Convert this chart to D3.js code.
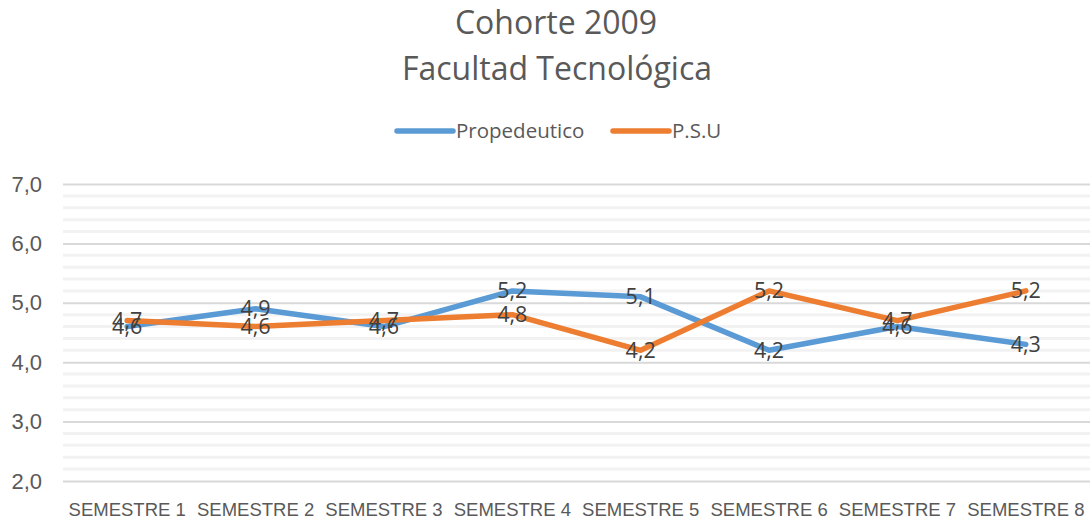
<!DOCTYPE html>
<html>
<head>
<meta charset="utf-8">
<script src="https://cdn.jsdelivr.net/npm/d3@7"></script>
<style>
  body { margin: 0; background: #fff; }
  svg { font-family: "Open Sans", "Noto Sans", sans-serif; }
</style>
</head>
<body>
<svg></svg>
<script>
// Data
let categories = ["SEMESTRE 1", "SEMESTRE 2", "SEMESTRE 3", "SEMESTRE 4",
  "SEMESTRE 5", "SEMESTRE 6", "SEMESTRE 7", "SEMESTRE 8"];
let propedeutico = [4.6, 4.9, 4.6, 5.2, 5.1, 4.2, 4.6, 4.3];
let psu = [4.7, 4.6, 4.7, 4.8, 4.2, 5.2, 4.7, 5.2];
let yTicks = [2, 3, 4, 5, 6, 7];
let seriesNames = ["Propedeutico", "P.S.U"];
let colors = ["#5b9bd5", "#ed7d31"];

let width = 1092;
let height = 526;
let plotLeft = 63, plotRight = 1090, plotTop = 184, plotBottom = 481;

let svg = d3.select("svg").attr("width", width).attr("height", height);

let xScale = d3.scaleBand().domain(categories).range([plotLeft, plotRight]);
let yScale = d3.scaleLinear().domain([2, 7]).range([plotBottom, plotTop]);

// minor gridlines
let minor = d3.range(2, 7.001, 0.2).map((v) => Math.round(v * 10) / 10)
  .filter((v) => !yTicks.includes(v));
svg.append("g").selectAll("line").data(minor).enter().append("line")
  .attr("x1", plotLeft).attr("x2", plotRight)
  .attr("y1", (d) => yScale(d)).attr("y2", (d) => yScale(d))
  .attr("stroke", "#f2f2f2").attr("stroke-width", 3);

// major gridlines via axis
let yAxis = d3.axisLeft(yScale).tickValues(yTicks)
  .tickSize(-(plotRight - plotLeft)).tickPadding(21)
  .tickFormat((d) => d3.format(".1f")(d).replace(".", ","));
let gy = svg.append("g").attr("transform", "translate(" + plotLeft + ",0)").call(yAxis);
gy.select(".domain").remove();
gy.selectAll(".tick line").attr("stroke", "#d9d9d9").attr("stroke-width", 2);
gy.selectAll(".tick text").attr("fill", "#595959").style("font-size", "22px");

// x axis labels
let xAxis = d3.axisBottom(xScale).tickSize(0).tickPadding(22);
let gx = svg.append("g").attr("transform", "translate(0," + plotBottom + ")").call(xAxis);
gx.select(".domain").remove();
gx.selectAll(".tick text").attr("fill", "#595959").style("font-size", "18.5px");

// lines
let line = d3.line()
  .x((d, i) => xScale(categories[i]) + xScale.bandwidth() / 2)
  .y((d) => yScale(d));

[propedeutico, psu].forEach((vals, k) => {
  svg.append("path").datum(vals)
    .attr("d", line)
    .attr("fill", "none")
    .attr("stroke", colors[k])
    .attr("stroke-width", 5.5)
    .attr("stroke-linecap", "round")
    .attr("stroke-linejoin", "round");
});

// data labels
[propedeutico, psu].forEach((vals, k) => {
  svg.append("g").selectAll("text").data(vals).enter().append("text")
    .attr("x", (d, i) => xScale(categories[i]) + xScale.bandwidth() / 2)
    .attr("y", (d) => yScale(d))
    .attr("dy", "0.35em")
    .attr("text-anchor", "middle")
    .attr("fill", "#404040")
    .style("font-size", "21.5px")
    .text((d) => d3.format(".1f")(d).replace(".", ","));
});

// title
svg.append("text").attr("x", 556).attr("y", 34).attr("text-anchor", "middle")
  .attr("fill", "#595959").style("font-size", "32px").text("Cohorte 2009");
svg.append("text").attr("x", 557).attr("y", 80).attr("text-anchor", "middle")
  .attr("fill", "#595959").style("font-size", "32px").text("Facultad Tecnológica");

// legend
let legendX = [397, 613];
seriesNames.forEach((name, k) => {
  let g = svg.append("g").attr("transform", "translate(" + legendX[k] + ",131)");
  g.append("line").attr("x1", 0).attr("x2", 56).attr("y1", 0).attr("y2", 0)
    .attr("stroke", colors[k]).attr("stroke-width", 5.5).attr("stroke-linecap", "round");
  g.append("text").attr("x", 59).attr("dy", "0.35em").attr("fill", "#595959")
    .style("font-size", "20.5px").text(name);
});
</script>
</body>
</html>
